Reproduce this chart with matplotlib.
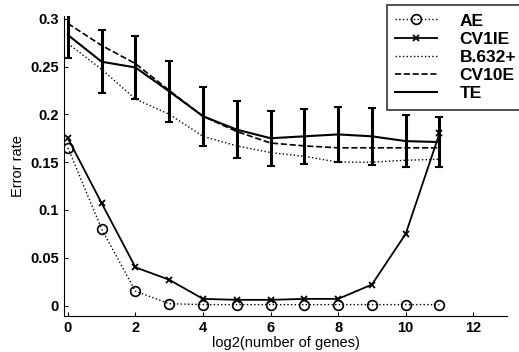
import numpy as np
import matplotlib.pyplot as plt

plt.rcParams['font.family'] = ['Liberation Sans', 'DejaVu Sans']
plt.rcParams['font.weight'] = 'bold'

x = np.arange(12)
ae = [0.165, 0.08, 0.015, 0.002, 0.001, 0.001, 0.001, 0.001, 0.001, 0.001, 0.001, 0.001]
cv1e = [0.175, 0.107, 0.04, 0.027, 0.007, 0.006, 0.006, 0.007, 0.007, 0.022, 0.075, 0.18]
b632 = [0.274, 0.247, 0.216, 0.2, 0.177, 0.167, 0.16, 0.156, 0.15, 0.15, 0.152, 0.153]
cv10e = [0.295, 0.272, 0.253, 0.225, 0.198, 0.182, 0.17, 0.167, 0.165, 0.165, 0.165, 0.165]
te = [0.283, 0.255, 0.249, 0.224, 0.198, 0.184, 0.175, 0.177, 0.179, 0.177, 0.172, 0.171]
te_err = [0.024, 0.033, 0.033, 0.032, 0.031, 0.03, 0.029, 0.029, 0.029, 0.03, 0.027, 0.026]

fig = plt.figure(figsize=(5.19, 3.52), dpi=100)
ax = fig.add_axes([0.123, 0.102, 0.854, 0.853])

ax.plot(x, ae, ':', color='k', lw=1, marker='o', mfc='none', ms=7, mew=1.2, label='AE')
ax.plot(x, cv1e, '-', color='k', lw=1.3, marker='x', ms=5, mew=1.3, label='CV1IE')
ax.plot(x, b632, ':', color='k', lw=1, label='B.632+')
ax.plot(x, cv10e, '--', color='k', lw=1.2, label='CV10E')
ax.errorbar(x, te, yerr=te_err, fmt='none', ecolor='k', elinewidth=2.2, capsize=3, capthick=1.5)
ax.plot(x, te, '-', color='k', lw=1.5, label='TE')

ax.set_xlim(-0.12, 13)
ax.set_ylim(-0.011, 0.303)
ax.set_xticks([0, 2, 4, 6, 8, 10, 12])
ax.set_yticks([0, 0.05, 0.1, 0.15, 0.2, 0.25, 0.3])
ax.set_yticklabels(['0', '0.05', '0.1', '0.15', '0.2', '0.25', '0.3'])
ax.tick_params(direction='in', labelsize=10.5, length=3)
ax.spines['top'].set_visible(False)
ax.spines['right'].set_visible(False)
ax.set_xlabel('log2(number of genes)', fontsize=10.5, labelpad=1)
ax.set_ylabel('Error rate', fontsize=10.5, labelpad=4)

leg = ax.legend(loc='upper right', bbox_to_anchor=(1.04, 1.037), fontsize=12.5, frameon=True, fancybox=False,
                edgecolor='k', handlelength=2.4, numpoints=1, labelspacing=0.17, borderpad=0.5,
                handletextpad=1.3, borderaxespad=0)
leg.get_frame().set_linewidth(1.2)

plt.savefig('out.png', dpi=100)
